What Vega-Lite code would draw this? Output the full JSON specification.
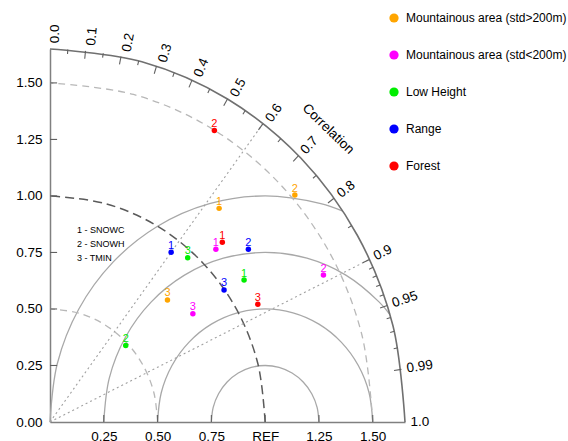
{
  "$schema": "https://vega.github.io/schema/vega-lite/v6.json",
  "width": 355,
  "height": 373,
  "autosize": {"type": "none"},
  "padding": {"left": 50, "top": 49, "right": 163, "bottom": 19},
  "background": "white",
  "config": {
    "view": {"stroke": null},
    "font": "Liberation Sans",
    "axis": {"grid": false, "title": null, "ticks": false, "labelOverlap": false, "labelFlush": false, "domainColor": "#808080", "domainWidth": 1.5, "labelFontSize": 13.5, "labelColor": "#000000", "labelFont": "Liberation Sans"}
  },
  "datasets": {
    "arcs": [
      {"g": "outer", "k": "o", "i": 0, "x": 1.65, "y": 0},
      {"g": "outer", "k": "o", "i": 1, "x": 1.59378, "y": 0.42705},
      {"g": "outer", "k": "o", "i": 2, "x": 1.42894, "y": 0.825},
      {"g": "outer", "k": "o", "i": 3, "x": 1.16673, "y": 1.16673},
      {"g": "outer", "k": "o", "i": 4, "x": 0.825, "y": 1.42894},
      {"g": "outer", "k": "o", "i": 5, "x": 0.42705, "y": 1.59378},
      {"g": "outer", "k": "o", "i": 6, "x": 0, "y": 1.65},
      {"g": "stdl", "k": "s05", "i": 0, "x": 0.5, "y": 0},
      {"g": "stdl", "k": "s05", "i": 1, "x": 0.48296, "y": 0.12941},
      {"g": "stdl", "k": "s05", "i": 2, "x": 0.43301, "y": 0.25},
      {"g": "stdl", "k": "s05", "i": 3, "x": 0.35355, "y": 0.35355},
      {"g": "stdl", "k": "s05", "i": 4, "x": 0.25, "y": 0.43301},
      {"g": "stdl", "k": "s05", "i": 5, "x": 0.12941, "y": 0.48296},
      {"g": "stdl", "k": "s05", "i": 6, "x": 0, "y": 0.5},
      {"g": "stdl", "k": "s15", "i": 0, "x": 1.5, "y": 0},
      {"g": "stdl", "k": "s15", "i": 1, "x": 1.44889, "y": 0.38823},
      {"g": "stdl", "k": "s15", "i": 2, "x": 1.29904, "y": 0.75},
      {"g": "stdl", "k": "s15", "i": 3, "x": 1.06066, "y": 1.06066},
      {"g": "stdl", "k": "s15", "i": 4, "x": 0.75, "y": 1.29904},
      {"g": "stdl", "k": "s15", "i": 5, "x": 0.38823, "y": 1.44889},
      {"g": "stdl", "k": "s15", "i": 6, "x": 0, "y": 1.5},
      {"g": "stdr", "k": "s10", "i": 0, "x": 1, "y": 0},
      {"g": "stdr", "k": "s10", "i": 1, "x": 0.96593, "y": 0.25882},
      {"g": "stdr", "k": "s10", "i": 2, "x": 0.86603, "y": 0.5},
      {"g": "stdr", "k": "s10", "i": 3, "x": 0.70711, "y": 0.70711},
      {"g": "stdr", "k": "s10", "i": 4, "x": 0.5, "y": 0.86603},
      {"g": "stdr", "k": "s10", "i": 5, "x": 0.25882, "y": 0.96593},
      {"g": "stdr", "k": "s10", "i": 6, "x": 0, "y": 1},
      {"g": "rms", "k": "r025", "i": 0, "x": 0.75, "y": 0},
      {"g": "rms", "k": "r025", "i": 1, "x": 0.75852, "y": 0.0647},
      {"g": "rms", "k": "r025", "i": 2, "x": 0.78349, "y": 0.125},
      {"g": "rms", "k": "r025", "i": 3, "x": 0.82322, "y": 0.17678},
      {"g": "rms", "k": "r025", "i": 4, "x": 0.875, "y": 0.21651},
      {"g": "rms", "k": "r025", "i": 5, "x": 0.9353, "y": 0.24148},
      {"g": "rms", "k": "r025", "i": 6, "x": 1, "y": 0.25},
      {"g": "rms", "k": "r025", "i": 7, "x": 1.0647, "y": 0.24148},
      {"g": "rms", "k": "r025", "i": 8, "x": 1.125, "y": 0.21651},
      {"g": "rms", "k": "r025", "i": 9, "x": 1.17678, "y": 0.17678},
      {"g": "rms", "k": "r025", "i": 10, "x": 1.21651, "y": 0.125},
      {"g": "rms", "k": "r025", "i": 11, "x": 1.24148, "y": 0.0647},
      {"g": "rms", "k": "r025", "i": 12, "x": 1.25, "y": 0},
      {"g": "rms", "k": "r05", "i": 0, "x": 0.5, "y": 0},
      {"g": "rms", "k": "r05", "i": 1, "x": 0.51704, "y": 0.12941},
      {"g": "rms", "k": "r05", "i": 2, "x": 0.56699, "y": 0.25},
      {"g": "rms", "k": "r05", "i": 3, "x": 0.64645, "y": 0.35355},
      {"g": "rms", "k": "r05", "i": 4, "x": 0.75, "y": 0.43301},
      {"g": "rms", "k": "r05", "i": 5, "x": 0.87059, "y": 0.48296},
      {"g": "rms", "k": "r05", "i": 6, "x": 1, "y": 0.5},
      {"g": "rms", "k": "r05", "i": 7, "x": 1.12941, "y": 0.48296},
      {"g": "rms", "k": "r05", "i": 8, "x": 1.25, "y": 0.43301},
      {"g": "rms", "k": "r05", "i": 9, "x": 1.35355, "y": 0.35355},
      {"g": "rms", "k": "r05", "i": 10, "x": 1.43301, "y": 0.25},
      {"g": "rms", "k": "r05", "i": 11, "x": 1.48296, "y": 0.12941},
      {"g": "rms", "k": "r05", "i": 12, "x": 1.5, "y": 0},
      {"g": "rms", "k": "r075", "i": 0, "x": 0.25, "y": 0},
      {"g": "rms", "k": "r075", "i": 1, "x": 0.27556, "y": 0.19411},
      {"g": "rms", "k": "r075", "i": 2, "x": 0.35048, "y": 0.375},
      {"g": "rms", "k": "r075", "i": 3, "x": 0.46967, "y": 0.53033},
      {"g": "rms", "k": "r075", "i": 4, "x": 0.625, "y": 0.64952},
      {"g": "rms", "k": "r075", "i": 5, "x": 0.80589, "y": 0.72444},
      {"g": "rms", "k": "r075", "i": 6, "x": 1, "y": 0.75},
      {"g": "rms", "k": "r075", "i": 7, "x": 1.19411, "y": 0.72444},
      {"g": "rms", "k": "r075", "i": 8, "x": 1.375, "y": 0.64952},
      {"g": "rms", "k": "r075", "i": 9, "x": 1.53033, "y": 0.53033},
      {"g": "rms", "k": "r075", "i": 10, "x": 1.58, "y": 0.4755},
      {"g": "rms", "k": "r10", "i": 0, "x": 0, "y": 0},
      {"g": "rms", "k": "r10", "i": 1, "x": 0.03407, "y": 0.25882},
      {"g": "rms", "k": "r10", "i": 2, "x": 0.13397, "y": 0.5},
      {"g": "rms", "k": "r10", "i": 3, "x": 0.29289, "y": 0.70711},
      {"g": "rms", "k": "r10", "i": 4, "x": 0.5, "y": 0.86603},
      {"g": "rms", "k": "r10", "i": 5, "x": 0.74118, "y": 0.96593},
      {"g": "rms", "k": "r10", "i": 6, "x": 1, "y": 1},
      {"g": "rms", "k": "r10", "i": 7, "x": 1.25882, "y": 0.96593},
      {"g": "rms", "k": "r10", "i": 8, "x": 1.36125, "y": 0.93248}
    ],
    "rays": [
      {"x": 0, "y": 0, "x2": 0.99, "y2": 1.32},
      {"x": 0, "y": 0, "x2": 1.485, "y2": 0.71922}
    ],
    "ticks": [
      {"x": 0, "y": 0.25, "x2": 0.033, "y2": 0.25},
      {"x": 0, "y": 0.5, "x2": 0.033, "y2": 0.5},
      {"x": 0, "y": 0.75, "x2": 0.033, "y2": 0.75},
      {"x": 0, "y": 1.0, "x2": 0.033, "y2": 1.0},
      {"x": 0, "y": 1.25, "x2": 0.033, "y2": 1.25},
      {"x": 0, "y": 1.5, "x2": 0.033, "y2": 1.5},
      {"x": 0.25, "y": 0, "x2": 0.25, "y2": 0.031},
      {"x": 0.5, "y": 0, "x2": 0.5, "y2": 0.031},
      {"x": 0.75, "y": 0, "x2": 0.75, "y2": 0.031},
      {"x": 1.0, "y": 0, "x2": 1.0, "y2": 0.031},
      {"x": 1.25, "y": 0, "x2": 1.25, "y2": 0.031},
      {"x": 1.5, "y": 0, "x2": 1.5, "y2": 0.031},
      {"x": 0.165, "y": 1.64173, "x2": 0.1615, "y2": 1.60691},
      {"x": 0.33, "y": 1.61667, "x2": 0.323, "y2": 1.58238},
      {"x": 0.495, "y": 1.574, "x2": 0.4845, "y2": 1.54061},
      {"x": 0.66, "y": 1.51226, "x2": 0.646, "y2": 1.48018},
      {"x": 0.825, "y": 1.42894, "x2": 0.8075, "y2": 1.39864},
      {"x": 0.99, "y": 1.32, "x2": 0.969, "y2": 1.292},
      {"x": 1.155, "y": 1.17833, "x2": 1.1305, "y2": 1.15334},
      {"x": 1.32, "y": 0.99, "x2": 1.292, "y2": 0.969},
      {"x": 1.485, "y": 0.71922, "x2": 1.4535, "y2": 0.70396},
      {"x": 1.5675, "y": 0.51521, "x2": 1.53425, "y2": 0.50428},
      {"x": 1.6335, "y": 0.23277, "x2": 1.59885, "y2": 0.22783},
      {"x": 0.0825, "y": 1.64794, "x2": 0.0815, "y2": 1.62796},
      {"x": 0.2475, "y": 1.63134, "x2": 0.2445, "y2": 1.61156},
      {"x": 0.4125, "y": 1.59761, "x2": 0.4075, "y2": 1.57825},
      {"x": 0.5775, "y": 1.54564, "x2": 0.5705, "y2": 1.5269},
      {"x": 0.7425, "y": 1.4735, "x2": 0.7335, "y2": 1.45564},
      {"x": 0.9075, "y": 1.37801, "x2": 0.8965, "y2": 1.36131},
      {"x": 1.0725, "y": 1.25388, "x2": 1.0595, "y2": 1.23869},
      {"x": 1.2375, "y": 1.09138, "x2": 1.2225, "y2": 1.07815},
      {"x": 1.4025, "y": 0.86919, "x2": 1.3855, "y2": 0.85865},
      {"x": 1.5015, "y": 0.68411, "x2": 1.4833, "y2": 0.67581},
      {"x": 1.518, "y": 0.64667, "x2": 1.4996, "y2": 0.63883},
      {"x": 1.5345, "y": 0.60647, "x2": 1.5159, "y2": 0.59912},
      {"x": 1.551, "y": 0.56293, "x2": 1.5322, "y2": 0.55611},
      {"x": 1.584, "y": 0.462, "x2": 1.5648, "y2": 0.4564},
      {"x": 1.6005, "y": 0.40112, "x2": 1.5811, "y2": 0.39625},
      {"x": 1.617, "y": 0.32835, "x2": 1.5974, "y2": 0.32437}
    ],
    "clab": [
      {"t": "0.0", "x": 0.0233, "y": 1.675, "a": -90},
      {"t": "0.1", "x": 0.1907, "y": 1.6645, "a": -84.54},
      {"t": "0.2", "x": 0.3556, "y": 1.6374, "a": -79.01},
      {"t": "0.3", "x": 0.5226, "y": 1.5921, "a": -73.35},
      {"t": "0.4", "x": 0.6872, "y": 1.5284, "a": -67.46},
      {"t": "0.5", "x": 0.8538, "y": 1.4421, "a": -61.22},
      {"t": "0.6", "x": 1.0152, "y": 1.3331, "a": -54.49},
      {"t": "0.7", "x": 1.1759, "y": 1.1932, "a": -47.0},
      {"t": "0.8", "x": 1.342, "y": 1.0035, "a": -38.25},
      {"t": "0.9", "x": 1.5075, "y": 0.73012, "a": -26.98},
      {"t": "0.95", "x": 1.59125, "y": 0.52302, "a": -19.06},
      {"t": "0.99", "x": 1.65825, "y": 0.23629, "a": -8.52},
      {"t": "1.0", "x": 1.675, "y": 0, "a": 0}
    ],
    "notes": [
      {"t": "1 - SNOWC", "x": 0.1256, "y": 0.85},
      {"t": "2 - SNOWH", "x": 0.1256, "y": 0.788},
      {"t": "3 - TMIN", "x": 0.1256, "y": 0.727}
    ],
    "title": [
      {"t": "Correlation", "x": 1.293, "y": 1.296}
    ],
    "pts": [
      {"region": "Mountainous area (std>200m)", "v": "1", "x": 0.786, "y": 0.945},
      {"region": "Mountainous area (std>200m)", "v": "2", "x": 1.138, "y": 1.004},
      {"region": "Mountainous area (std>200m)", "v": "3", "x": 0.546, "y": 0.54},
      {"region": "Mountainous area (std<200m)", "v": "1", "x": 0.771, "y": 0.764},
      {"region": "Mountainous area (std<200m)", "v": "2", "x": 1.271, "y": 0.65},
      {"region": "Mountainous area (std<200m)", "v": "3", "x": 0.664, "y": 0.479},
      {"region": "Low Height", "v": "1", "x": 0.902, "y": 0.628},
      {"region": "Low Height", "v": "2", "x": 0.352, "y": 0.338},
      {"region": "Low Height", "v": "3", "x": 0.64, "y": 0.727},
      {"region": "Range", "v": "1", "x": 0.563, "y": 0.751},
      {"region": "Range", "v": "2", "x": 0.922, "y": 0.764},
      {"region": "Range", "v": "3", "x": 0.809, "y": 0.584},
      {"region": "Forest", "v": "1", "x": 0.801, "y": 0.795},
      {"region": "Forest", "v": "2", "x": 0.764, "y": 1.289},
      {"region": "Forest", "v": "3", "x": 0.966, "y": 0.521}
    ]
  },
  "layer": [
    {
      "data": {"name": "arcs"},
      "transform": [{"filter": "datum.g == 'rms'"}],
      "mark": {"type": "line", "interpolate": "catmull-rom", "color": "#a8a8a8", "strokeWidth": 1.3},
      "encoding": {
        "x": {"field": "x", "type": "quantitative", "scale": {"domain": [0, 1.65], "nice": false, "zero": false},
          "axis": {"values": [0.25, 0.5, 0.75, 1, 1.25, 1.5], "labelExpr": "datum.value == 1 ? 'REF' : format(datum.value, '.2f')", "labelPadding": 7}},
        "y": {"field": "y", "type": "quantitative", "scale": {"domain": [0, 1.65], "nice": false, "zero": false},
          "axis": {"values": [0, 0.25, 0.5, 0.75, 1, 1.25, 1.5], "format": ".2f", "labelPadding": 8}},
        "detail": {"field": "k"},
        "order": {"field": "i", "type": "quantitative"}
      }
    },
    {
      "data": {"name": "arcs"},
      "transform": [{"filter": "datum.g == 'stdl'"}],
      "mark": {"type": "line", "interpolate": "catmull-rom", "color": "#b8b8b8", "strokeWidth": 1.3, "strokeDash": [7, 5]},
      "encoding": {
        "x": {"field": "x", "type": "quantitative"},
        "y": {"field": "y", "type": "quantitative"},
        "detail": {"field": "k"},
        "order": {"field": "i", "type": "quantitative"}
      }
    },
    {
      "data": {"name": "arcs"},
      "transform": [{"filter": "datum.g == 'stdr'"}],
      "mark": {"type": "line", "interpolate": "catmull-rom", "color": "#5a5a5a", "strokeWidth": 1.5, "strokeDash": [9, 5]},
      "encoding": {
        "x": {"field": "x", "type": "quantitative"},
        "y": {"field": "y", "type": "quantitative"},
        "detail": {"field": "k"},
        "order": {"field": "i", "type": "quantitative"}
      }
    },
    {
      "data": {"name": "arcs"},
      "transform": [{"filter": "datum.g == 'outer'"}],
      "mark": {"type": "line", "interpolate": "catmull-rom", "color": "#707070", "strokeWidth": 1.6},
      "encoding": {
        "x": {"field": "x", "type": "quantitative"},
        "y": {"field": "y", "type": "quantitative"},
        "detail": {"field": "k"},
        "order": {"field": "i", "type": "quantitative"}
      }
    },
    {
      "data": {"name": "rays"},
      "mark": {"type": "rule", "color": "#a0a0a0", "strokeWidth": 1.1, "strokeDash": [2, 3]},
      "encoding": {
        "x": {"field": "x", "type": "quantitative"},
        "y": {"field": "y", "type": "quantitative"},
        "x2": {"field": "x2"},
        "y2": {"field": "y2"}
      }
    },
    {
      "data": {"name": "ticks"},
      "mark": {"type": "rule", "color": "#606060", "strokeWidth": 1.1},
      "encoding": {
        "x": {"field": "x", "type": "quantitative"},
        "y": {"field": "y", "type": "quantitative"},
        "x2": {"field": "x2"},
        "y2": {"field": "y2"}
      }
    },
    {
      "data": {"name": "clab"},
      "mark": {"type": "text", "align": "left", "baseline": "middle", "fontSize": 13.5, "font": "Liberation Sans", "color": "#000000"},
      "encoding": {
        "x": {"field": "x", "type": "quantitative"},
        "y": {"field": "y", "type": "quantitative"},
        "text": {"field": "t"},
        "angle": {"field": "a", "type": "quantitative", "scale": null}
      }
    },
    {
      "data": {"name": "title"},
      "mark": {"type": "text", "align": "center", "baseline": "middle", "fontSize": 13.5, "font": "Liberation Sans", "color": "#000000", "angle": 44},
      "encoding": {
        "x": {"field": "x", "type": "quantitative"},
        "y": {"field": "y", "type": "quantitative"},
        "text": {"field": "t"}
      }
    },
    {
      "data": {"name": "notes"},
      "mark": {"type": "text", "align": "left", "baseline": "middle", "fontSize": 9, "font": "Liberation Sans", "color": "#000000"},
      "encoding": {
        "x": {"field": "x", "type": "quantitative"},
        "y": {"field": "y", "type": "quantitative"},
        "text": {"field": "t"}
      }
    },
    {
      "data": {"name": "pts"},
      "mark": {"type": "point", "filled": true, "size": 30, "opacity": 1},
      "encoding": {
        "x": {"field": "x", "type": "quantitative"},
        "y": {"field": "y", "type": "quantitative"},
        "color": {"field": "region", "type": "nominal",
          "scale": {"domain": ["Mountainous area (std>200m)", "Mountainous area (std<200m)", "Low Height", "Range", "Forest"], "range": ["#ffa500", "#ff00ff", "#00ee00", "#0000ff", "#ff0000"]},
          "legend": {"title": null, "orient": "none", "legendX": 338, "legendY": -37, "symbolType": "circle", "symbolSize": 85, "symbolStrokeWidth": 0, "symbolOpacity": 1, "labelFontSize": 12, "labelFont": "Liberation Sans", "labelColor": "#000000", "rowPadding": 25, "labelOffset": 6, "padding": 0, "labelLimit": 300}}
      }
    },
    {
      "data": {"name": "pts"},
      "mark": {"type": "text", "align": "center", "baseline": "alphabetic", "dy": -3.5, "fontSize": 11, "font": "Liberation Sans"},
      "encoding": {
        "x": {"field": "x", "type": "quantitative"},
        "y": {"field": "y", "type": "quantitative"},
        "text": {"field": "v"},
        "color": {"field": "region", "type": "nominal", "legend": null}
      }
    }
  ]
}
